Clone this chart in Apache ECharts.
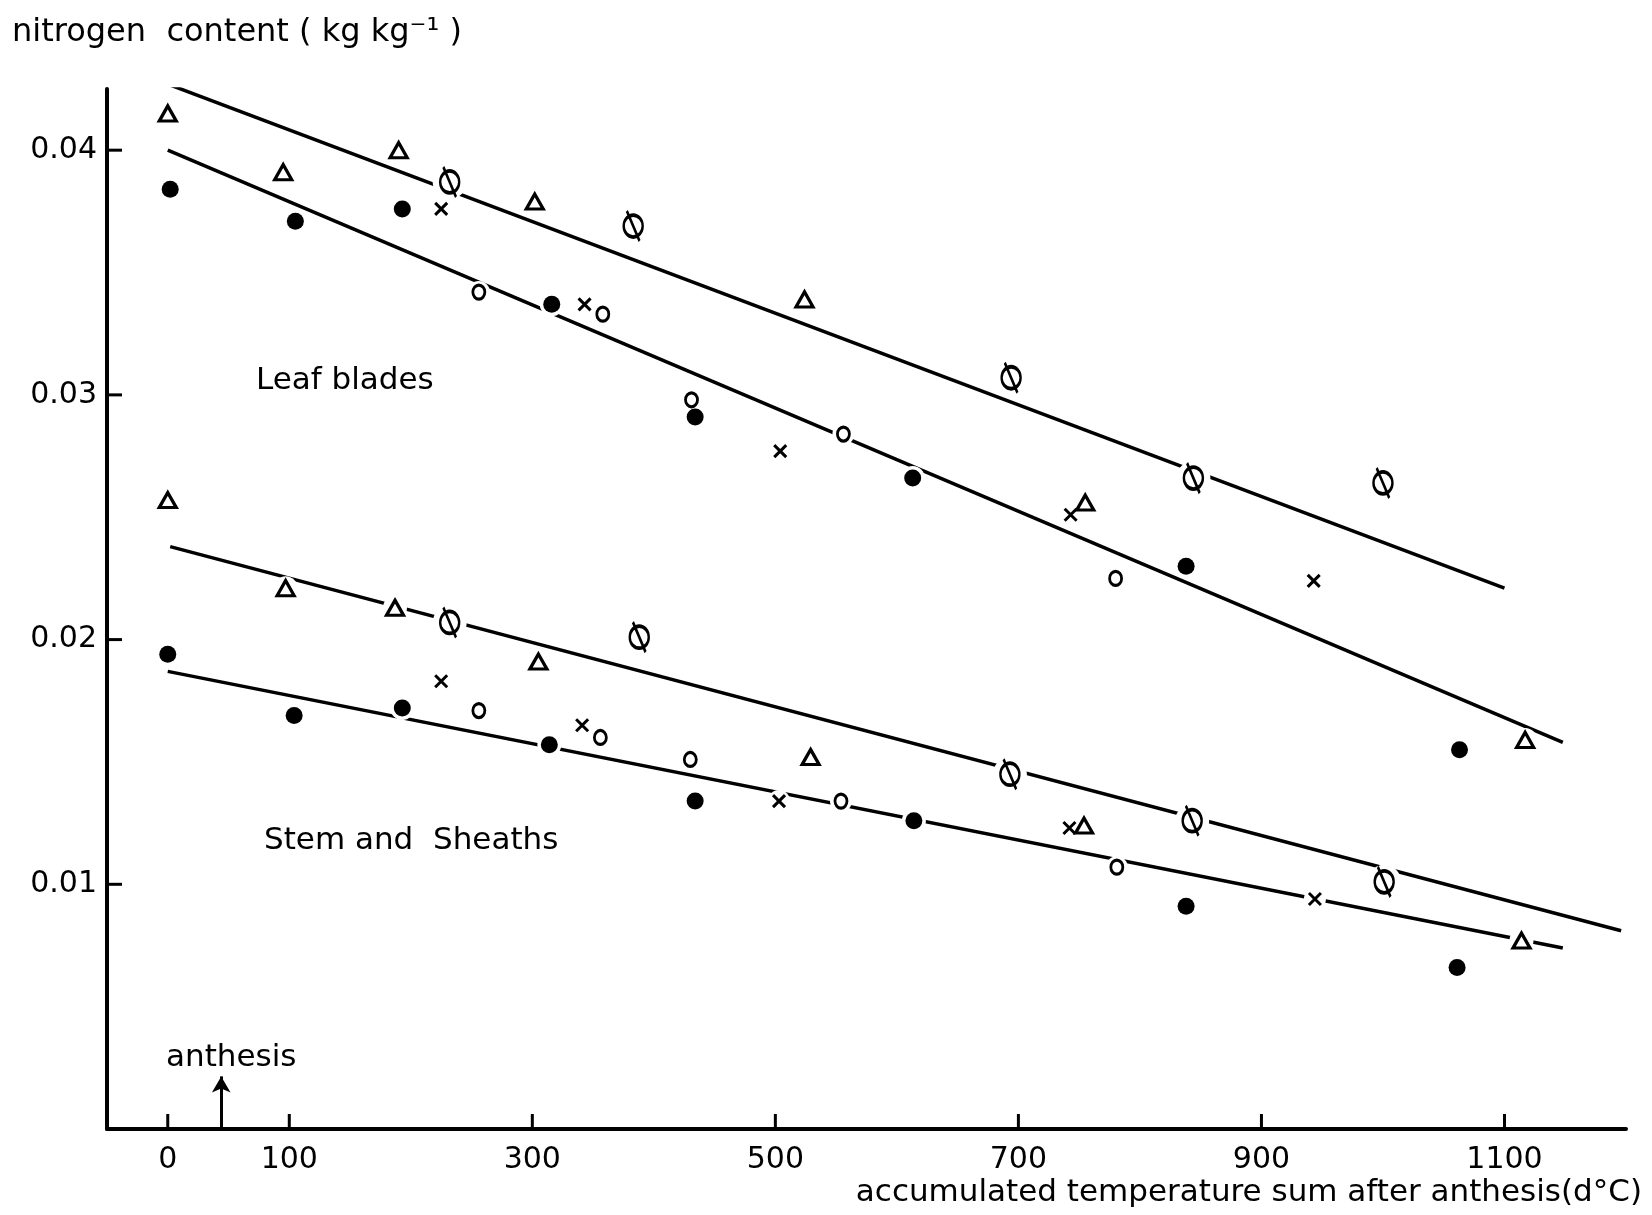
<!DOCTYPE html>
<html>
<head>
<meta charset="utf-8">
<script src="https://cdn.jsdelivr.net/npm/echarts@6/dist/echarts.min.js"></script>
<style>html,body{margin:0;padding:0;background:#fff}#c{width:1652px;height:1215px}</style>
</head>
<body>
<div id="c"></div>
<script>
// x tick labels
const xTicks = [0, 100, 300, 500, 700, 900, 1100];
const yTicks = [0.01, 0.02, 0.03, 0.04];

// Leaf blades
const leafTri   = [[0,0.0415],[95,0.0391],[190,0.0400],[302,0.0379],[524,0.0339],[755,0.0256],[1117,0.0159]];
const leafDot   = [[2,0.0384],[105,0.0371],[193,0.0376],[316,0.0337],[434,0.0291],[613,0.0266],[838,0.0230],[1063,0.0155]];
const leafOpen  = [[256,0.0342],[358,0.0333],[431,0.0298],[556,0.0284],[780,0.0225]];
const leafCross = [[225,0.0376],[343,0.0337],[504,0.0277],[743,0.0251],[943,0.0224]];
const leafSlash = [[232,0.0387],[383,0.0369],[694,0.0307],[844,0.0266],[1000,0.0264]];

// Stem and sheaths
const stemTri   = [[0,0.0257],[97,0.0221],[187,0.0213],[305,0.0191],[529,0.0152],[754,0.0124],[1114,0.0077]];
const stemDot   = [[0,0.0194],[104,0.0169],[193,0.0172],[314,0.0157],[434,0.0134],[614,0.0126],[838,0.0091],[1061,0.0066]];
const stemOpen  = [[256,0.0171],[356,0.0160],[430,0.0151],[554,0.0134],[781,0.0107]];
const stemCross = [[225,0.0183],[341,0.0165],[503,0.0134],[742,0.0123],[944,0.0094]];
const stemSlash = [[232,0.0207],[388,0.0201],[693,0.0145],[843,0.0126],[1001,0.0101]];

// Fitted lines (endpoints)
const leafUpperLine = [[0,0.0427],[1100,0.0221]];
const leafLowerLine = [[0,0.0400],[1148,0.0158]];
const stemUpperLine = [[2,0.0238],[1196,0.0081]];
const stemLowerLine = [[0,0.0187],[1148,0.0074]];

// anthesis arrow: x, from y, to y
const anthesisArrow = [44, 0, 0.00215];

const X_MIN = -50, X_MAX = 1200, Y_MIN = 0, Y_MAX = 0.0425;
const FONT = 'DejaVu Sans';
const crossPath = 'path://M0,0L10,10M10,0L0,10';
const slashPath = 'path://M2,15A9,11 0 1,1 20,15A9,11 0 1,1 2,15Z M5,0L17,30';

function lineSeries(d) {
  return {type:'line', data:d, symbol:'none', z:1, silent:true,
    lineStyle:{color:'#000', width:3.5, opacity:1}, animation:false};
}
function halo(d, size) {
  return {type:'scatter', data:d, symbol:'circle', symbolSize:size, z:2, silent:true,
    itemStyle:{color:'#fff', borderWidth:0, opacity:1}, animation:false};
}
function marker(d, symbol, size, fill, bw) {
  return {type:'scatter', data:d, symbol:symbol, symbolSize:size, z:3, silent:true,
    itemStyle:{color:fill, borderColor:'#000', borderWidth:bw, opacity:1}, animation:false};
}

const tri = leafTri.concat(stemTri);
const dot = leafDot.concat(stemDot);
const opn = leafOpen.concat(stemOpen);
const crs = leafCross.concat(stemCross);
const sls = leafSlash.concat(stemSlash);

const textGraphics = [
  {type:'text', x:12, y:33, z:10, style:{text:'nitrogen  content ( kg kg⁻¹ )', fill:'#000',
    font:'32px "DejaVu Sans"', align:'left', verticalAlign:'middle'}},
  {type:'text', x:1642, y:1193, z:10, style:{text:'accumulated temperature sum after anthesis(d°C)', fill:'#000',
    font:'31px "DejaVu Sans"', align:'right', verticalAlign:'middle'}},
  {type:'text', x:256, y:381, z:10, style:{text:'Leaf blades', fill:'#000',
    font:'31px "DejaVu Sans"', align:'left', verticalAlign:'middle'}},
  {type:'text', x:264, y:841, z:10, style:{text:'Stem and  Sheaths', fill:'#000',
    font:'31px "DejaVu Sans"', align:'left', verticalAlign:'middle'}},
  {type:'text', x:166, y:1058, z:10, style:{text:'anthesis', fill:'#000',
    font:'31px "DejaVu Sans"', align:'left', verticalAlign:'middle'}}
];

const option = {
  animation:false,
  backgroundColor:'#fff',
  grid:{left:107, right:26, top:89, bottom:86, containLabel:false},
  xAxis:{
    type:'value', min:X_MIN, max:X_MAX,
    splitLine:{show:false},
    axisLine:{onZero:false, lineStyle:{color:'#000', width:4}},
    axisTick:{show:false},
    axisLabel:{customValues:xTicks, margin:16, color:'#000', fontFamily:FONT, fontSize:30,
      formatter:v => String(Math.round(v))}
  },
  yAxis:{
    type:'value', min:Y_MIN, max:Y_MAX,
    splitLine:{show:false},
    axisLine:{onZero:false, lineStyle:{color:'#000', width:4}},
    axisTick:{show:false},
    axisLabel:{customValues:yTicks, margin:10, color:'#000', fontFamily:FONT, fontSize:30,
      formatter:v => v.toFixed(2)}
  },
  graphic:textGraphics,
  series:[
    lineSeries(leafUpperLine), lineSeries(leafLowerLine),
    lineSeries(stemUpperLine), lineSeries(stemLowerLine),
    halo(tri, 24), halo(dot, 24), halo(opn, 22), halo(crs, 22), halo(sls, 34),
    marker(tri, 'triangle', [17,15], '#fff', 3.2),
    marker(dot, 'circle', 17, '#000', 0),
    marker(opn, 'circle', [12,14], '#fff', 3),
    marker(crs, crossPath, 12, 'none', 3),
    marker(sls, slashPath, [19,30], 'none', 3),
    {type:'scatter', data:[], silent:true, z:4,
      markLine:{silent:true, symbol:['none','arrow'], symbolSize:[14,16], label:{show:false},
        lineStyle:{color:'#000', width:3, type:'solid', opacity:1},
        data:[[{coord:[anthesisArrow[0], anthesisArrow[1]]},{coord:[anthesisArrow[0], anthesisArrow[2]]}]]}}
  ]
};
const chart = echarts.init(document.getElementById('c'));
chart.setOption(option);

// inside tick marks placed through the chart's own scales
const TICK_LEN = 15;
const tickGraphics = [];
xTicks.forEach(v => {
  const p = chart.convertToPixel({gridIndex:0}, [v, Y_MIN]);
  tickGraphics.push({type:'line', z:20, silent:true,
    shape:{x1:p[0], y1:p[1], x2:p[0], y2:p[1] - TICK_LEN},
    style:{stroke:'#000', lineWidth:3}});
});
yTicks.forEach(v => {
  const p = chart.convertToPixel({gridIndex:0}, [X_MIN, v]);
  tickGraphics.push({type:'line', z:20, silent:true,
    shape:{x1:p[0], y1:p[1], x2:p[0] + TICK_LEN, y2:p[1]},
    style:{stroke:'#000', lineWidth:3}});
});
chart.setOption({graphic:textGraphics.concat(tickGraphics)});
</script>
</body>
</html>
